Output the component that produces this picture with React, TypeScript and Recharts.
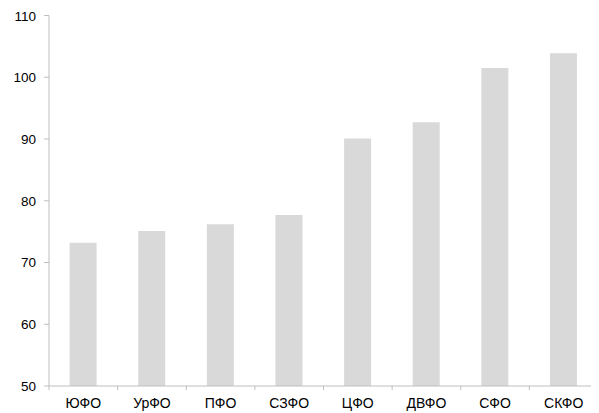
import { BarChart, Bar, XAxis, YAxis } from "recharts";

const districts = ["ЮФО", "УрФО", "ПФО", "СЗФО", "ЦФО", "ДВФО", "СФО", "СКФО"];
const values = [73.2, 75.1, 76.2, 77.7, 90.1, 92.7, 101.5, 103.9];
const yTicks = [50, 60, 70, 80, 90, 100, 110];

const chartData = districts.map((name, i) => ({ name, value: values[i] }));

const W = 591;
const H = 405;
const LEFT = 41;
const RIGHT = 1;
const BAND = (W - LEFT - RIGHT) / districts.length;

const CategoryTick = (props: any) => {
  const { x, y, payload, index } = props;
  const axisY = y - 10;
  const half = BAND / 2;
  return (
    <g>
      <line x1={x - half} y1={axisY} x2={x - half} y2={axisY + 4} stroke="#bfbfbf" />
      {index === districts.length - 1 && (
        <line x1={x + half} y1={axisY} x2={x + half} y2={axisY + 4} stroke="#bfbfbf" />
      )}
      <text x={x} y={y + 2} dy="0.71em" textAnchor="middle" fill="#000" fontSize={14}>
        {payload.value}
      </text>
    </g>
  );
};

export default function App() {
  return (
    <div style={{ fontFamily: "'Liberation Sans', Arial, sans-serif" }}>
      <BarChart
        width={W}
        height={H}
        data={chartData}
        margin={{ top: 7.5, right: RIGHT, left: 0, bottom: 0 }}
        barCategoryGap="30%"
      >
        <XAxis
          dataKey="name"
          height={27}
          tickLine={false}
          tickSize={4}
          tickMargin={6}
          axisLine={{ stroke: "#bfbfbf" }}
          tick={<CategoryTick />}
          interval={0}
        />
        <YAxis
          width={LEFT}
          domain={[50, 110]}
          ticks={yTicks}
          allowDataOverflow
          tickSize={5}
          tickMargin={8}
          axisLine={{ stroke: "#bfbfbf" }}
          tickLine={{ stroke: "#bfbfbf" }}
          tick={{ fill: "#000", fontSize: 13.5 }}
        />
        <Bar dataKey="value" fill="#d9d9d9" isAnimationActive={false} />
      </BarChart>
    </div>
  );
}
